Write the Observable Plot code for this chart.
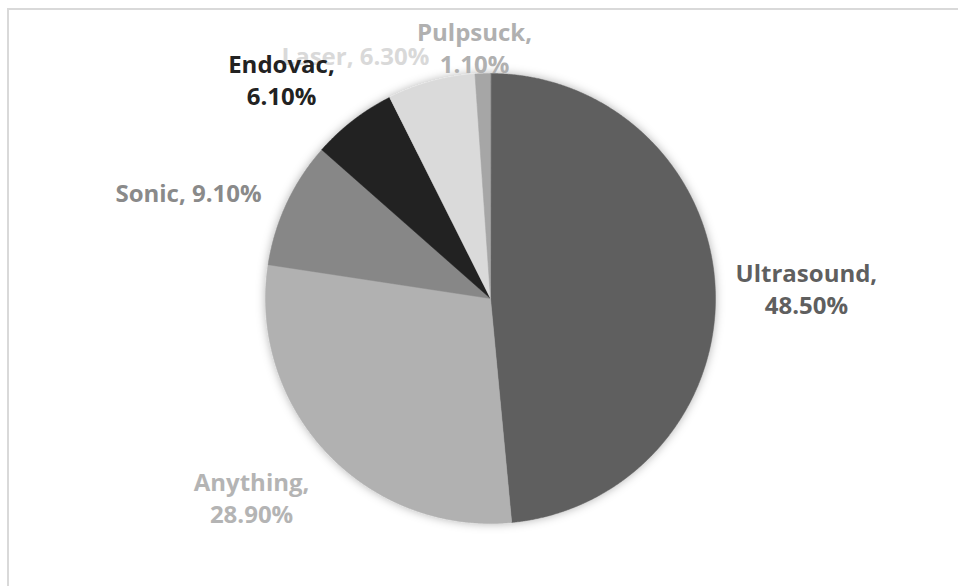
<!DOCTYPE html>
<html>
<head>
<meta charset="utf-8">
<script src="https://cdn.jsdelivr.net/npm/d3@7"></script>
<script src="https://cdn.jsdelivr.net/npm/@observablehq/plot@0.6"></script>
<style>
  html, body { margin: 0; padding: 0; background: #fff; overflow: hidden; }
  #wrap { position: relative; width: 958px; height: 586px; }
  #frame { position: absolute; left: 7px; top: 8px; width: 1000px; height: 1000px;
           border: 2px solid #d9d9d9; box-sizing: border-box; pointer-events: none; }
</style>
</head>
<body>
<div id="wrap"><div id="frame"></div></div>
<script>
// Data
const categories = ["Ultrasound", "Anything", "Sonic", "Endovac", "Laser", "Pulpsuck"];
const shares = [48.5, 28.9, 9.1, 6.1, 6.3, 1.1];
const labelText = ["Ultrasound,\n48.50%", "Anything,\n28.90%", "Sonic, 9.10%", "Endovac,\n6.10%", "Laser, 6.30%", "Pulpsuck,\n1.10%"];

// Styles / layout (not data)
const sliceColors = ["#5f5f5f", "#b1b1b1", "#878787", "#212121", "#dadada", "#a6a6a6"];
const labelColors = ["#5f5f5f", "#b4b4b4", "#8a8a8a", "#222222", "#d9d9d9", "#b0b0b0"];
// label anchor positions in units of pie radius, relative to centre
const labelLayout = [[1.404, 0.049], [-1.062, -0.88], [-1.342, 0.476], [-0.929, 0.978], [-0.6, 1.084], [-0.071, 1.12]];
// drawing order of labels (Endovac drawn over Laser as in the reference)
const labelOrder = [0, 1, 2, 4, 5, 3];

const arcs = d3.pie().sort(null).value(d => d)(shares);
const slicePts = [];
arcs.forEach((a, i) => {
  slicePts.push({cat: categories[i], color: sliceColors[i], x: 0, y: 0});
  const steps = Math.max(2, Math.ceil((a.endAngle - a.startAngle) / (Math.PI / 720)));
  for (let k = 0; k <= steps; k++) {
    const t = a.startAngle + (a.endAngle - a.startAngle) * k / steps;
    slicePts.push({cat: categories[i], color: sliceColors[i], x: Math.sin(t), y: Math.cos(t)});
  }
});
const labels = labelOrder.map(i => ({
  text: labelText[i], color: labelColors[i], x: labelLayout[i][0], y: labelLayout[i][1]
}));

const cx = 490, cy = 298, R = 225;
const chart = Plot.plot({
  width: 958, height: 586,
  margin: 0,
  x: {domain: [-1, 1], range: [cx - R, cx + R], axis: null},
  y: {domain: [-1, 1], range: [cy + R, cy - R], axis: null},
  color: {type: "identity"},
  style: {fontFamily: "'Open Sans', 'Noto Sans', sans-serif", background: "transparent"},
  marks: [
    Plot.line(slicePts, {x: "x", y: "y", z: "cat", fill: "color", stroke: "color", strokeWidth: 0.5, curve: "linear-closed"}),
    Plot.text(labels, {x: "x", y: "y", text: "text", fill: "color", fontSize: 24, fontWeight: 700, lineHeight: 1.36})
  ]
});
// soft shadow around the pie
const svg = d3.select(chart);
const defs = svg.insert("defs", ":first-child");
const f = defs.append("filter").attr("id", "pieShadow").attr("x", "-20%").attr("y", "-20%").attr("width", "140%").attr("height", "140%");
f.append("feDropShadow").attr("dx", 0).attr("dy", 0).attr("stdDeviation", 5).attr("flood-color", "#000").attr("flood-opacity", 0.3);
svg.select("g[aria-label='line']").attr("filter", "url(#pieShadow)");

const wrap = document.getElementById("wrap");
wrap.insertBefore(chart, wrap.firstChild);
chart.style.position = "absolute"; chart.style.left = "0"; chart.style.top = "0";
</script>
</body>
</html>
